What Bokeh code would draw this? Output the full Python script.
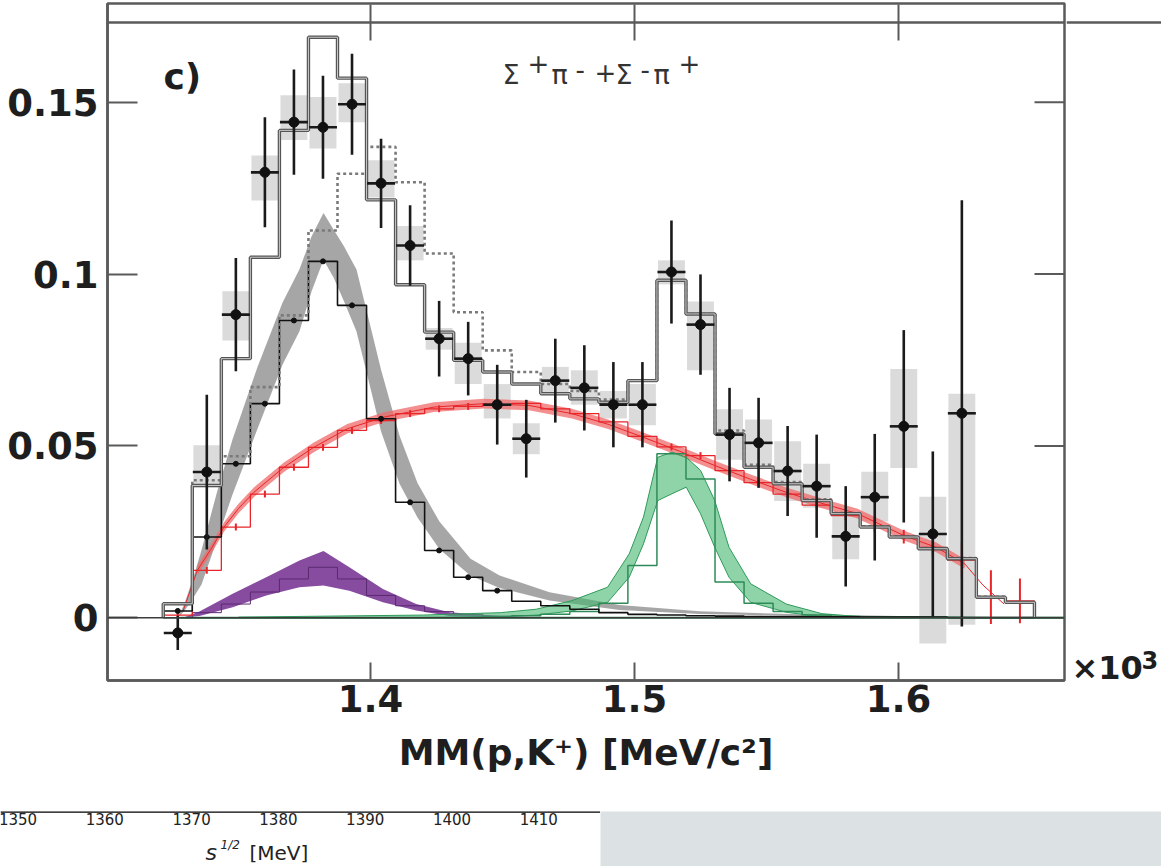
from bokeh.plotting import figure
from bokeh.models import Range1d, FixedTicker, Span, Label
from bokeh.layouts import column, row
from bokeh.embed import file_html
from bokeh.resources import INLINE
from bokeh.core.properties import value

# ---------------- data (x in GeV/c^2, axis shown as x10^3 MeV/c^2) ----------------
bin_centers = [1.327, 1.338, 1.349, 1.360, 1.371, 1.382, 1.393, 1.404, 1.415, 1.426,
               1.437, 1.448, 1.459, 1.470, 1.481, 1.492, 1.503, 1.514, 1.525, 1.536,
               1.547, 1.558, 1.569, 1.580, 1.591, 1.602, 1.613, 1.624, 1.635, 1.646]
bin_width = 0.011

# measured points (first 28 bins)
data_y = [-0.0044, 0.0424, 0.0882, 0.1296, 0.1442, 0.1427, 0.1494, 0.1264, 0.1083, 0.0812,
          0.0754, 0.0620, 0.0521, 0.0690, 0.0669, 0.0620, 0.0620, 0.1006, 0.0853, 0.0533,
          0.0509, 0.0427, 0.0383, 0.0237, 0.0351, 0.0557, 0.0244, 0.0595]
data_stat = [0.0050, 0.0225, 0.0165, 0.0160, 0.0153, 0.0150, 0.0147, 0.0130, 0.0117, 0.0110,
             0.0107, 0.0116, 0.0113, 0.0122, 0.0124, 0.0124, 0.0124, 0.0150, 0.0146, 0.0136,
             0.0131, 0.0131, 0.0150, 0.0146, 0.0184, 0.0280, 0.0240, 0.0620]
sys_lo = [-0.0044, 0.0380, 0.0807, 0.1214, 0.1390, 0.1365, 0.1442, 0.1223, 0.1040, 0.0780,
          0.0680, 0.0580, 0.0476, 0.0650, 0.0620, 0.0580, 0.0560, 0.0970, 0.0720, 0.0460,
          0.0440, 0.0340, 0.0320, 0.0170, 0.0280, 0.0436, -0.0075, -0.0020]
sys_hi = [-0.0044, 0.0502, 0.0950, 0.1345, 0.1520, 0.1515, 0.1555, 0.1331, 0.1140, 0.0843,
          0.0800, 0.0680, 0.0566, 0.0730, 0.0720, 0.0660, 0.0680, 0.1040, 0.0920, 0.0607,
          0.0577, 0.0514, 0.0448, 0.0304, 0.0425, 0.0724, 0.0352, 0.0652]

# fitted histograms (30 bins)
total_fit = [0.0041, 0.0385, 0.0754, 0.1049, 0.1418, 0.1689, 0.1570, 0.1216, 0.0969, 0.0831,
             0.0749, 0.0715, 0.0680, 0.0652, 0.0637, 0.0627, 0.0690, 0.0982, 0.0884, 0.0535,
             0.0438, 0.0390, 0.0341, 0.0303, 0.0264, 0.0235, 0.0201, 0.0172, 0.0060, 0.0045]
alt_fit = [0.0041, 0.0400, 0.0470, 0.0671, 0.0880, 0.1127, 0.1292, 0.1370, 0.1267, 0.1060,
           0.0889, 0.0778, 0.0715, 0.0680, 0.0660, 0.0635, 0.0690, 0.0982, 0.0884, 0.0545,
           0.0445, 0.0395, 0.0345, 0.0305, 0.0266, 0.0237, 0.0203, 0.0174, 0.0061, 0.0046]
lambda1405_tmpl = [0.0020, 0.0235, 0.0448, 0.0623, 0.0865, 0.1037, 0.0909, 0.0579, 0.0336, 0.0196,
                   0.0118, 0.0079, 0.0048, 0.0035, 0.0025, 0.0015, 0.0010, 0.0008, 0.0006, 0.0005,
                   0.0004, 0.0004, 0.0003, 0.0003, 0.0002, 0.0002, 0.0002, 0.0001, 0.0001, 0.0001]
sigma1385_tmpl = [0.0000, 0.0015, 0.0040, 0.0075, 0.0113, 0.0147, 0.0113, 0.0065, 0.0035, 0.0018,
                  0.0010, 0.0005, 0.0003, 0.0002, 0.0001, 0.0001, 0.0000, 0.0000, 0.0000, 0.0000,
                  0.0000, 0.0000, 0.0000, 0.0000, 0.0000, 0.0000, 0.0000, 0.0000, 0.0000, 0.0000]
phase_tmpl = [0.0008, 0.0138, 0.0264, 0.0360, 0.0438, 0.0496, 0.0545, 0.0574, 0.0594, 0.0608,
              0.0615, 0.0620, 0.0624, 0.0608, 0.0594, 0.0570, 0.0528, 0.0497, 0.0472, 0.0428,
              0.0393, 0.0360, 0.0328, 0.0297, 0.0265, 0.0236, 0.0205, 0.0168, 0.0060, 0.0049]
phase_err = [0.0008, 0.0010, 0.0010, 0.0010, 0.0010, 0.0010, 0.0010, 0.0010, 0.0010, 0.0010,
             0.0010, 0.0010, 0.0010, 0.0010, 0.0010, 0.0010, 0.0010, 0.0010, 0.0010, 0.0010,
             0.0010, 0.0012, 0.0012, 0.0014, 0.0016, 0.0020, 0.0027, 0.0050, 0.0078, 0.0065]
lambda1520_tmpl = [0.0, 0.0, 0.0, 0.0, 0.0, 0.0, 0.0, 0.0, 0.0, 0.0,
                   0.0, 0.0002, 0.0006, 0.0010, 0.0018, 0.0042, 0.0152, 0.0477, 0.0404, 0.0104,
                   0.0042, 0.0018, 0.0008, 0.0004, 0.0002, 0.0001, 0.0001, 0.0, 0.0, 0.0]

# uncertainty bands of the fitted line shapes
lam_band_x = [1.3270, 1.3295, 1.3330, 1.3360, 1.3420, 1.3477, 1.3572, 1.3667, 1.3731, 1.3777,
              1.3822, 1.3860, 1.3900, 1.3947, 1.3996, 1.4040, 1.4110, 1.4178, 1.4261, 1.4379,
              1.4489, 1.4678, 1.4943, 1.5246, 1.5625, 1.6000, 1.6515]
lam_band_c = [0.0, 0.0030, 0.0090, 0.0147, 0.0300, 0.0438, 0.0640, 0.0827, 0.0924, 0.1030,
              0.1110, 0.1060, 0.1000, 0.0923, 0.0770, 0.0632, 0.0460, 0.0342, 0.0240, 0.0147,
              0.0105, 0.0062, 0.0030, 0.0015, 0.0008, 0.0004, 0.0]
lam_band_hw = [0.0, 0.0010, 0.0030, 0.0050, 0.0070, 0.0080, 0.0090, 0.0090, 0.0090, 0.0080,
               0.0068, 0.0070, 0.0080, 0.0090, 0.0090, 0.0090, 0.0070, 0.0050, 0.0040, 0.0025,
               0.0018, 0.0012, 0.0007, 0.0004, 0.0002, 0.0001, 0.0]

sig_band_x = [1.3290, 1.3352, 1.3478, 1.3605, 1.3731, 1.3822, 1.3920, 1.4047, 1.4173, 1.4299,
              1.4489, 1.4716]
sig_band_lo = [0.0, 0.0005, 0.0031, 0.0065, 0.0089, 0.0094, 0.0079, 0.0045, 0.0021, 0.0005,
               0.0, 0.0]
sig_band_hi = [0.0, 0.0018, 0.0070, 0.0118, 0.0167, 0.0194, 0.0147, 0.0084, 0.0040, 0.0016,
               0.0005, 0.0]

ps_curve_x = [1.3290, 1.3344, 1.3400, 1.3445, 1.3500, 1.3558, 1.3672, 1.3785, 1.3912, 1.4051,
              1.4240, 1.4429, 1.4600, 1.4763, 1.4900, 1.5034, 1.5170, 1.5304, 1.5440, 1.5575,
              1.5710, 1.5845, 1.6021, 1.6143, 1.6251, 1.6320, 1.6400]
ps_curve_y = [0.0020, 0.0138, 0.0205, 0.0264, 0.0318, 0.0365, 0.0438, 0.0496, 0.0550, 0.0584,
              0.0613, 0.0623, 0.0618, 0.0594, 0.0563, 0.0525, 0.0485, 0.0443, 0.0403, 0.0365,
              0.0333, 0.0303, 0.0239, 0.0205, 0.0157, 0.0095, 0.0040]
ps_band_hw = 0.0014

l1520_band_x = [1.3500, 1.4200, 1.4493, 1.4628, 1.4763, 1.4898, 1.4980, 1.5034, 1.5088, 1.5142,
                1.5196, 1.5250, 1.5304, 1.5358, 1.5440, 1.5575, 1.5710, 1.5845, 1.6500]
l1520_band_lo = [0.0, 0.0001, 0.0003, 0.0008, 0.0020, 0.0045, 0.0118, 0.0215, 0.0341, 0.0361,
                 0.0380, 0.0303, 0.0205, 0.0118, 0.0045, 0.0016, 0.0003, 0.0, 0.0]
l1520_band_hi = [0.0002, 0.0008, 0.0015, 0.0025, 0.0050, 0.0089, 0.0186, 0.0293, 0.0467, 0.0482,
                 0.0467, 0.0429, 0.0341, 0.0205, 0.0099, 0.0040, 0.0012, 0.0004, 0.0]

x_ticks = [1.4, 1.5, 1.6]
y_ticks = [0, 0.05, 0.1, 0.15]
y_tick_labels = {0: "0", 0.05: "0.05", 0.1: "0.1", 0.15: "0.15"}

# lower strip (fragment of another chart)
s_ticks = [1350, 1360, 1370, 1380, 1390, 1400, 1410]

# ---------------- geometry helpers ----------------
X0, X1 = 1.30038, 1.30038 + 957 / 2640.0
Y0, Y1 = -0.01824, 0.17872
DESC = 0.236  # DejaVu descent (em) -> labels are anchored at the bottom of their text box


def px2x(px):
    return X0 + (px - 107) / 2640.0


def py2y(py):
    return Y1 - (py - 3) / 3437.3


def base_py(py, fs):
    # pixel row of the text-box bottom for a glyph baseline at py
    return py + DESC * fs


def step_xy(vals):
    xs, ys = [bin_centers[0] - bin_width / 2], [0.0]
    for c, v in zip(bin_centers, vals):
        xs += [c - bin_width / 2, c + bin_width / 2]
        ys += [v, v]
    xs.append(bin_centers[len(vals) - 1] + bin_width / 2)
    ys.append(0.0)
    return xs, ys


AX = "#5a5a5a"
TXT = "#1e1e1e"

p = figure(width=1066, height=800, x_range=Range1d(X0, X1), y_range=Range1d(Y0, Y1),
           output_backend="svg", toolbar_location=None,
           min_border_left=107, min_border_right=2, min_border_top=3, min_border_bottom=120)
p.grid.visible = False
p.outline_line_color = AX
p.outline_line_width = 2.5
p.background_fill_color = "white"

for ax in (p.xaxis[0], p.yaxis[0]):
    ax.axis_line_color = AX
    ax.axis_line_width = 2.5
    ax.major_tick_line_color = AX
    ax.major_tick_line_width = 2
    ax.major_tick_out = 0
    ax.minor_tick_line_color = None
    ax.major_label_text_font = "DejaVu Sans"
    ax.major_label_text_font_style = "bold"
    ax.major_label_text_font_size = "37px"
    ax.major_label_text_color = TXT

p.xaxis.ticker = FixedTicker(ticks=x_ticks)
p.xaxis.major_tick_in = 18
p.xaxis.major_label_standoff = 4
p.xaxis.axis_label = "MM(p,K\u207a) [MeV/c\u00b2]"
p.xaxis.axis_label_text_font = "DejaVu Sans"
p.xaxis.axis_label_text_font_style = "bold"
p.xaxis.axis_label_text_font_size = "36px"
p.xaxis.axis_label_text_color = TXT
p.xaxis.axis_label_standoff = 17

p.yaxis.ticker = FixedTicker(ticks=y_ticks)
p.yaxis.major_label_overrides = y_tick_labels
p.yaxis.major_tick_in = 30
p.yaxis.major_label_standoff = 9

# right-hand inward ticks
p.segment(x0=[px2x(1034)] * len(y_ticks), y0=y_ticks, x1=[X1] * len(y_ticks), y1=y_ticks,
          line_color=AX, line_width=2)

# top frame strip (border of the panel above)
p.add_layout(Span(location=py2y(22), dimension="width", line_color=AX, line_width=2.5))
p.segment(x0=x_ticks, y0=[py2y(40)] * len(x_ticks), x1=x_ticks, y1=[py2y(4)] * len(x_ticks),
          line_color=AX, line_width=2)

# systematic boxes
p.quad(left=[c - 0.0051 for c in bin_centers[:len(data_y)]],
       right=[c + 0.0051 for c in bin_centers[:len(data_y)]],
       bottom=sys_lo, top=sys_hi, fill_color="#cfcfcf", fill_alpha=0.75, line_color=None)

# baseline
p.add_layout(Span(location=0, dimension="width", line_color="#3c3c3c", line_width=1.5))

# Lambda(1405) band
lam_lo = [c - h for c, h in zip(lam_band_c, lam_band_hw)]
lam_hi = [c + h for c, h in zip(lam_band_c, lam_band_hw)]
p.varea(x=lam_band_x, y1=lam_lo, y2=lam_hi, fill_color="#9c9c9c", fill_alpha=0.9)

# Sigma(1385) band
p.varea(x=sig_band_x, y1=sig_band_lo, y2=sig_band_hi, fill_color="#7d3c98", fill_alpha=0.92)
sx, sy = step_xy(sigma1385_tmpl)
p.line(sx[:26], sy[:26], line_color="#5a2a70", line_width=1)

# phase space band
ps_lo = [v - ps_band_hw for v in ps_curve_y[1:-2]]
ps_hi = [v + ps_band_hw for v in ps_curve_y[1:-2]]
p.varea(x=ps_curve_x[1:-2], y1=ps_lo, y2=ps_hi, fill_color="#f06a6a", fill_alpha=0.75)
p.line(ps_curve_x, ps_curve_y, line_color="#e8262a", line_width=1)

# Lambda(1520) band
p.varea(x=l1520_band_x, y1=l1520_band_lo, y2=l1520_band_hi, fill_color="#45b870", fill_alpha=0.6)
p.line(l1520_band_x, l1520_band_hi, line_color="#2f9a5a", line_width=1)
p.line(l1520_band_x, l1520_band_lo, line_color="#2f9a5a", line_width=1)
p.segment(x0=[px2x(180)], y0=[0], x1=[X1], y1=[0], line_color="#2e8b57", line_width=2)

# template histograms
gx, gy = step_xy(lambda1520_tmpl)
p.line(gx, gy, line_color="#2e8b57", line_width=1.5)
rx, ry = step_xy(phase_tmpl)
p.line(rx, ry, line_color="#e8262a", line_width=1.3)
p.segment(x0=bin_centers, y0=[v - e for v, e in zip(phase_tmpl, phase_err)],
          x1=bin_centers, y1=[v + e for v, e in zip(phase_tmpl, phase_err)],
          line_color="#e8262a", line_width=2)
lx, ly = step_xy(lambda1405_tmpl)
p.line(lx, ly, line_color="#111111", line_width=1.6)
p.scatter(bin_centers[:12], lambda1405_tmpl[:12], size=5, color="#111111")

# fit histograms
ax_, ay_ = step_xy(alt_fit)
p.line(ax_, ay_, line_color="#7a7a7a", line_width=2.6, line_dash="3 3")
tx, ty = step_xy(total_fit)
p.line(tx, ty, line_color="#555555", line_width=3.4)
p.line(tx, ty, line_color="#c8c8c8", line_width=1.0)

# data points
dx = bin_centers[:len(data_y)]
p.segment(x0=dx, y0=[y - e for y, e in zip(data_y, data_stat)], x1=dx,
          y1=[y + e for y, e in zip(data_y, data_stat)], line_color="#1a1a1a", line_width=2.6)
p.segment(x0=[x - 0.0053 for x in dx], y0=data_y, x1=[x + 0.0053 for x in dx], y1=data_y,
          line_color="#1a1a1a", line_width=2.6)
p.scatter(dx, data_y, size=10, color="#111111")

# texts inside the frame
p.add_layout(Label(x=px2x(163), y=py2y(base_py(88, 36)), text="c)", text_font="DejaVu Sans",
                   text_font_style="bold", text_font_size="36px", text_color=TXT))
pieces = [("\u03a3", 502, 83, 27), ("+", 527, 66, 26), ("\u03c0", 551, 83, 27),
          ("-", 575, 72, 26), ("+", 594, 75, 26), ("\u03a3", 615, 83, 27),
          ("-", 640, 72, 26), ("\u03c0", 653, 83, 27), ("+", 678, 66, 26)]
for t, px, py, fs in pieces:
    p.add_layout(Label(x=px2x(px), y=py2y(base_py(py, fs)), text=t, text_font="DejaVu Sans",
                       text_font_size=f"{fs}px", text_color="#333333"))

# side panel carrying the x10^3 multiplier
side = figure(width=95, height=800, x_range=Range1d(0, 95), y_range=Range1d(Y0, Y1),
              output_backend="svg", toolbar_location=None,
              min_border_left=0, min_border_right=0, min_border_top=3, min_border_bottom=120,
              x_axis_location=None, y_axis_location=None)
side.grid.visible = False
side.outline_line_color = None
side.add_layout(Span(location=py2y(22), dimension="width", line_color=AX, line_width=2.5))
side.add_layout(Label(x=5, y=py2y(base_py(679, 32)), text="\u00d710", text_font="DejaVu Sans",
                      text_font_style="bold", text_font_size="32px", text_color=TXT))
side.add_layout(Label(x=75, y=py2y(base_py(663, 24)), text="3", text_font="DejaVu Sans",
                      text_font_style="bold", text_font_size="24px", text_color=TXT))

# ---------------- lower strip ----------------
S0 = 1350 - 17.5 / 8.68
S1 = S0 + 600 / 8.68
strip = figure(width=600, height=66, x_range=Range1d(S0, S1), y_range=Range1d(0, 55),
               output_backend="svg", toolbar_location=None,
               min_border_left=0, min_border_right=0, min_border_top=11, min_border_bottom=0,
               x_axis_location=None, y_axis_location=None)
strip.grid.visible = False
strip.outline_line_color = None
strip.add_layout(Span(location=54.6, dimension="width", line_color="black", line_width=1.6))
strip.text(x=s_ticks, y=[53.5] * len(s_ticks), text=[str(t) for t in s_ticks], text_align="center",
           text_baseline="top", text_font=value("DejaVu Sans"), text_font_size="15px",
           text_color="#222222")


def sxp(px):
    return S0 + px / 8.68


strip.add_layout(Label(x=sxp(205), y=866 - base_py(859, 22), text="s", text_font="DejaVu Sans",
                       text_font_style="italic", text_font_size="22px", text_color="#222222"))
strip.add_layout(Label(x=sxp(220), y=866 - base_py(849, 12), text="1/2", text_font="DejaVu Sans",
                       text_font_style="italic", text_font_size="12px", text_color="#222222"))
strip.add_layout(Label(x=sxp(249), y=866 - base_py(860, 20), text="[MeV]", text_font="DejaVu Sans",
                       text_font_size="20px", text_color="#222222"))

rect = figure(width=561, height=66, output_backend="svg", toolbar_location=None,
              min_border_top=11, min_border_left=0, min_border_right=0, min_border_bottom=0,
              x_axis_location=None, y_axis_location=None,
              x_range=Range1d(0, 1), y_range=Range1d(0, 1))
rect.grid.visible = False
rect.outline_line_color = None
rect.background_fill_color = "#dce1e4"

layout = column(row(p, side, spacing=0), row(strip, rect, spacing=0), spacing=0)
open("out.html", "w").write(file_html(layout, INLINE))
